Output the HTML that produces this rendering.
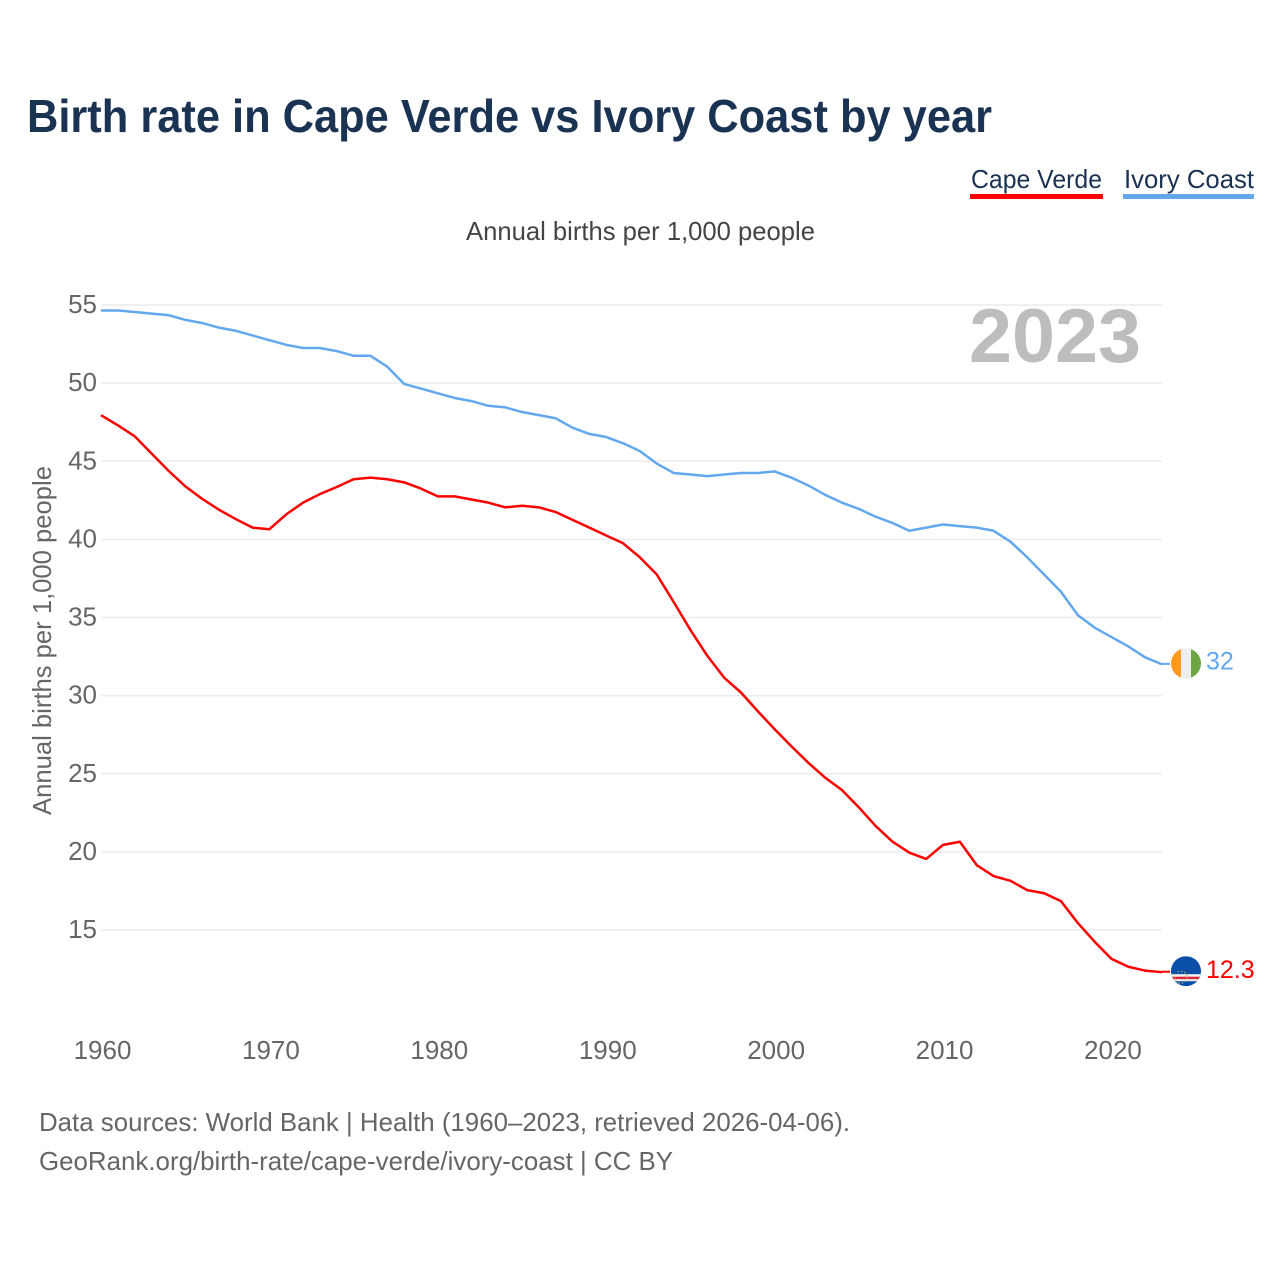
<!DOCTYPE html>
<html lang="en">
<head>
<meta charset="utf-8">
<title>Birth rate in Cape Verde vs Ivory Coast by year</title>
<style>
html,body{margin:0;padding:0;background:#fff;}
svg{display:block;font-family:"Liberation Sans",sans-serif;}
</style>
</head>
<body>
<svg id="chart" width="1280" height="1280" viewBox="0 0 1280 1280" xmlns="http://www.w3.org/2000/svg">
<rect width="1280" height="1280" fill="#fff"/>
<text x="27" y="132" font-size="46" font-weight="700" fill="#1a3353" textLength="965" lengthAdjust="spacingAndGlyphs">Birth rate in Cape Verde vs Ivory Coast by year</text>
<g>
<text x="971" y="188" font-size="26" fill="#1a3353" textLength="131" lengthAdjust="spacingAndGlyphs">Cape Verde</text>
<rect x="970" y="194" width="133" height="5" fill="#ff0000"/>
</g>
<g>
<text x="1124" y="188" font-size="26" fill="#1a3353" textLength="130" lengthAdjust="spacingAndGlyphs">Ivory Coast</text>
<rect x="1123" y="194" width="131" height="5" fill="#63a8ee"/>
</g>
<text x="466" y="240" font-size="26" fill="#444" textLength="349" lengthAdjust="spacingAndGlyphs">Annual births per 1,000 people</text>
<g id="grid"></g>
<text x="969" y="362" font-size="76" font-weight="700" fill="#bdbdbd" textLength="172" lengthAdjust="spacingAndGlyphs">2023</text>
<text transform="translate(51,815) rotate(-90)" font-size="26" fill="#666" textLength="349" lengthAdjust="spacingAndGlyphs">Annual births per 1,000 people</text>
<g id="yticks"></g>
<g id="xticks"></g>
<g id="series"></g>
<g id="ends"></g>
<text x="39" y="1131" font-size="26" fill="#666" textLength="811" lengthAdjust="spacingAndGlyphs">Data sources: World Bank | Health (1960–2023, retrieved 2026-04-06).</text>
<text x="39" y="1170" font-size="26" fill="#666" textLength="634" lengthAdjust="spacingAndGlyphs">GeoRank.org/birth-rate/cape-verde/ivory-coast | CC BY</text>
</svg>
<script>
const startYear = 1960;
const yTicks = [55, 50, 45, 40, 35, 30, 25, 20, 15];
const xTicks = [1960, 1970, 1980, 1990, 2000, 2010, 2020];
const capeVerde = [47.95,47.3,46.6,45.5,44.4,43.4,42.6,41.9,41.3,40.75,40.65,41.6,42.35,42.9,43.35,43.85,43.95,43.85,43.65,43.25,42.75,42.75,42.55,42.35,42.05,42.15,42.05,41.75,41.25,40.75,40.25,39.75,38.85,37.75,36.0,34.2,32.55,31.15,30.2,29.0,27.85,26.75,25.7,24.75,23.95,22.85,21.65,20.65,19.95,19.55,20.45,20.65,19.15,18.45,18.15,17.55,17.35,16.85,15.45,14.25,13.15,12.65,12.4,12.3];
const ivoryCoast = [54.65,54.65,54.55,54.45,54.35,54.05,53.85,53.55,53.35,53.05,52.75,52.45,52.25,52.25,52.05,51.75,51.75,51.05,49.95,49.65,49.35,49.05,48.85,48.55,48.45,48.15,47.95,47.75,47.15,46.75,46.55,46.15,45.65,44.85,44.25,44.15,44.05,44.15,44.25,44.25,44.35,43.95,43.45,42.85,42.35,41.95,41.45,41.05,40.55,40.75,40.95,40.85,40.75,40.55,39.85,38.85,37.75,36.65,35.15,34.35,33.75,33.15,32.45,32.0];
const capeVerdeLabel = "12.3";
const ivoryCoastLabel = "32";

const NS = "http://www.w3.org/2000/svg";
const X0 = 101, X1 = 1162, Y55 = 305, Y15 = 930;
function xAxis(year) { return X0 + (year - 1960) * (X1 - X0) / 63; }
function yAxis(v) { return Y55 + (55 - v) * (Y15 - Y55) / 40; }
function make(tag, attrs, parent) {
  const el = document.createElementNS(NS, tag);
  for (const k in attrs) el.setAttribute(k, attrs[k]);
  parent.appendChild(el);
  return el;
}
const grid = document.getElementById("grid");
const yG = document.getElementById("yticks");
const xG = document.getElementById("xticks");
const seriesG = document.getElementById("series");
const ends = document.getElementById("ends");

yTicks.forEach(function (t) {
  const line = make("line", {x1: X0, x2: X1, y1: yAxis(t), y2: yAxis(t), stroke: "#ececec", "stroke-width": 1.5}, grid);
  
  
  const label = make("text", {x: 97, y: yAxis(t) + 8, "text-anchor": "end", "font-size": 26, fill: "#666"}, yG);
  label.textContent = t;
  
  
});
xTicks.forEach(function (t) {
  const label = make("text", {x: xAxis(t) + 1.5, y: 1059, "text-anchor": "middle", "font-size": 26, fill: "#666"}, xG);
  label.textContent = t;
  
  
});
function drawLine(values, color) {
  const pts = values.map(function (v, i) { return xAxis(startYear + i).toFixed(2) + "," + yAxis(v).toFixed(2); });
  return make("polyline", {points: pts.join(" "), fill: "none", stroke: color, "stroke-width": 2.5, "stroke-linejoin": "round"}, seriesG);
}
const ivoryLine = drawLine(ivoryCoast, "#63a8ee");


const capeLine = drawLine(capeVerde, "#ff0000");



const FX = 1186, R = 15;
const defs = make("defs", {}, ends);
function clip(id, cy) {
  const c = make("clipPath", {id: id}, defs);
  make("circle", {cx: FX, cy: cy, r: R}, c);
}
/* Ivory Coast end marker */
const iy = yAxis(ivoryCoast[ivoryCoast.length - 1]) - 1;
clip("clip-ci", iy);
const stubI = make("line", {x1: X1, x2: X1 + 8, y1: iy + 0.5, y2: iy + 0.5, stroke: "#63a8ee", "stroke-width": 2}, ends);


const flagI = make("g", {"clip-path": "url(#clip-ci)"}, ends);


make("rect", {x: FX - R, y: iy - R, width: 10, height: 2 * R, fill: "#ff9a1f"}, flagI);
make("rect", {x: FX - 5, y: iy - R, width: 10, height: 2 * R, fill: "#eeeeee"}, flagI);
make("rect", {x: FX + 5, y: iy - R, width: 10, height: 2 * R, fill: "#6ea644"}, flagI);
const valI = make("text", {x: 1206, y: iy + 6, "font-size": 25, fill: "#63a8ee"}, ends);
valI.textContent = ivoryCoastLabel;



/* Cape Verde end marker */
const cy = yAxis(capeVerde[capeVerde.length - 1]) - 1;
clip("clip-cv", cy);
const stubC = make("line", {x1: X1, x2: X1 + 8, y1: cy + 0.5, y2: cy + 0.5, stroke: "#ff0000", "stroke-width": 2}, ends);


const flagC = make("g", {"clip-path": "url(#clip-cv)"}, ends);


make("rect", {x: FX - R, y: cy - R, width: 2 * R, height: 2 * R, fill: "#0a50a8"}, flagC);
make("rect", {x: FX - R, y: cy + 3, width: 2 * R, height: 7, fill: "#f2f2f2"}, flagC);
make("rect", {x: FX - R, y: cy + 5.5, width: 2 * R, height: 2.5, fill: "#d8283a"}, flagC);
make("circle", {cx: FX - 5, cy: cy + 6, r: 6, fill: "none", stroke: "#d9b84a", "stroke-width": 1, "stroke-dasharray": "1.5 2"}, flagC);
const valC = make("text", {x: 1206, y: cy + 7, "font-size": 25, fill: "#ff0000"}, ends);
valC.textContent = capeVerdeLabel;


</script>
</body>
</html>
